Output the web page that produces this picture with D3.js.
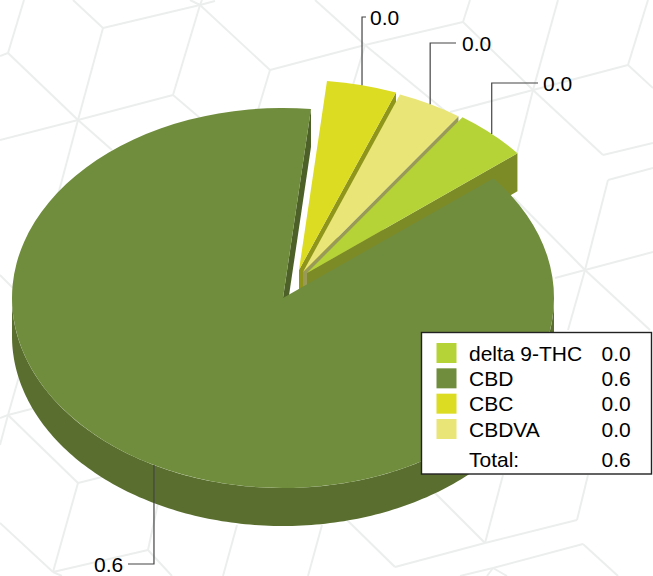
<!DOCTYPE html>
<html>
<head>
<meta charset="utf-8">
<script src="https://cdn.jsdelivr.net/npm/d3@7/dist/d3.min.js"></script>
<style>
  html, body { margin: 0; padding: 0; background: #fff; }
  svg { display: block; }
  text { font-family: "Liberation Sans", Arial, sans-serif; font-size: 21px; fill: #000; }
</style>
</head>
<body>
<div id="pieChart"></div>
<script>
// chart values
const categories = ['delta 9-THC', 'CBD', 'CBC', 'CBDVA']
const values = [0.0284, 0.5612, 0.0268, 0.025]
const totalLabel = 'Total:'
const totalValue = 0.6414

const width = 653
const height = 576

// pie geometry
const cx = 283
const cy = 298
const rx = 271
const ry = 190
const depth = 38
const startDeg = 35

// back to front
const drawOrder = ['CBC', 'CBDVA', 'delta 9-THC', 'CBD']

const topColor = d3.scaleOrdinal().domain(categories).range(['#b5d336', '#708d3d', '#dcdc23', '#e9e677'])
const rimColor = d3.scaleOrdinal().domain(categories).range(['#7d8b27', '#5a6f2f', '#8f941a', '#9a9a58'])
const faceColor = d3.scaleOrdinal().domain(categories).range(['#7d8b27', '#4c6027', '#8f941a', '#9a9a58'])

// how far each slice is pulled out, and where its callout goes
const explode = {
  'delta 9-THC': [24, -25],
  CBD: [0, 0],
  CBC: [16, -28],
  CBDVA: [20, -26]
}
const callouts = {
  'delta 9-THC': { elbowY: 83, endX: 538, textX: 543 },
  CBD: { elbowY: 564, endX: 128, textX: 94 },
  CBC: { elbowY: 17, endX: 366, textX: 370 },
  CBDVA: { elbowY: 43, endX: 456, textX: 462 }
}

// faint cube pattern behind the chart
const bgLines = [
  [24, 0, 8, 53], [8, 53, 0, 56], [8, 53, 78, 120], [73, 0, 103, 28], [103, 28, 200, 5],
  [200, 5, 215, 1], [200, 5, 202, 0], [200, 5, 190, 0], [103, 28, 78, 120], [200, 5, 173, 95],
  [173, 95, 78, 120], [78, 120, 0, 140], [200, 5, 270, 70], [270, 70, 365, 45], [270, 70, 258, 110],
  [173, 95, 200, 118], [78, 120, 58, 195], [78, 120, 112, 150],
  [315, 0, 365, 45], [365, 45, 450, 115], [365, 45, 463, 22], [463, 22, 470, 0], [463, 22, 533, 90],
  [365, 45, 353, 85], [533, 90, 558, 0], [533, 90, 628, 65], [628, 65, 648, 0], [628, 65, 653, 88],
  [533, 90, 450, 112], [533, 90, 517, 153], [533, 90, 603, 155], [603, 155, 653, 143],
  [608, 180, 653, 168], [608, 180, 585, 270], [585, 270, 653, 252], [585, 270, 555, 278],
  [585, 270, 513, 197], [585, 270, 568, 330], [585, 270, 650, 330],
  [0, 275, 13, 288], [20, 373, 8, 415], [8, 415, 35, 408], [8, 415, 0, 418], [8, 415, 78, 483],
  [8, 415, 0, 445], [78, 483, 110, 475], [78, 483, 53, 572], [0, 523, 53, 572], [53, 572, 62, 576],
  [53, 572, 148, 550], [158, 503, 148, 550], [148, 550, 172, 576],
  [237, 525, 223, 576], [322, 525, 308, 576], [347, 520, 395, 567], [395, 567, 485, 543],
  [485, 543, 430, 488], [485, 543, 503, 475], [485, 543, 577, 520], [577, 520, 588, 475],
  [493, 568, 583, 544], [583, 544, 618, 576], [493, 568, 460, 576], [493, 568, 507, 576], [493, 568, 487, 576]
]

const svg = d3
  .select('#pieChart')
  .append('svg')
  .attr('width', width)
  .attr('height', height)

svg
  .append('g')
  .selectAll('line')
  .data(bgLines)
  .enter()
  .append('line')
  .attr('x1', d => d[0])
  .attr('y1', d => d[1])
  .attr('x2', d => d[2])
  .attr('y2', d => d[3])
  .attr('stroke', '#eceeee')
  .attr('stroke-width', 2)

const rad = Math.PI / 180
const pie = d3
  .pie()
  .sort(null)
  .startAngle(startDeg * rad)
  .endAngle((startDeg + 360) * rad)
  .value(d => d)

const slices = pie(values).map((d, i) => ({ ...d, name: categories[i], off: explode[categories[i]] }))
const byName = new Map(slices.map(d => [d.name, d]))

// point on the rim of a slice, dy pushes it down the side wall
function rim(d, angle, dy) {
  return [
    cx + d.off[0] + rx * Math.sin(angle),
    cy + d.off[1] - ry * Math.cos(angle) + (dy || 0)
  ]
}

const line = d3.line()
const arc = d3.arc().innerRadius(0).outerRadius(rx)

const pieG = svg.append('g')

drawOrder.forEach(name => {
  const d = byName.get(name)
  const g = pieG.append('g')

  // curved wall, only the front half of the rim shows
  const a0 = Math.max(d.startAngle, 90 * rad)
  const a1 = Math.min(d.endAngle, 270 * rad)
  if (a1 > a0) {
    const steps = d3.range(a0, a1, rad).concat([a1])
    const pts = steps.map(a => rim(d, a)).concat(steps.slice().reverse().map(a => rim(d, a, depth)))
    g.append('path').attr('d', line(pts) + 'Z').attr('fill', rimColor(name))
  }

  // cut face on the end of the slice
  const endA = d.endAngle
  if (Math.sin(endA) > 0) {
    const apex = [cx + d.off[0], cy + d.off[1]]
    const pts = [apex, rim(d, endA), rim(d, endA, depth), [apex[0], apex[1] + depth]]
    g.append('path').attr('d', line(pts) + 'Z').attr('fill', faceColor(name))
  }

  g
    .append('path')
    .attr('d', arc(d))
    .attr('transform', `translate(${cx + d.off[0]},${cy + d.off[1]}) scale(1,${ry / rx})`)
    .attr('fill', topColor(name))
})

// callouts
const fmt = d3.format('.1f')
const labelG = svg.append('g')
slices.forEach(d => {
  const mid = (d.startAngle + d.endAngle) / 2
  const p = rim(d, mid)
  const c = callouts[d.name]
  labelG
    .append('path')
    .attr('d', line([p, [p[0], c.elbowY], [c.endX, c.elbowY]]))
    .attr('fill', 'none')
    .attr('stroke', '#444')
    .attr('stroke-width', 1.2)
  labelG
    .append('text')
    .attr('x', c.textX)
    .attr('y', c.elbowY + 8)
    .text(fmt(d.value))
})

// legend
const legend = svg.append('g').attr('transform', 'translate(421.5,332.5)')
legend
  .append('rect')
  .attr('width', 230)
  .attr('height', 141.5)
  .attr('fill', '#fff')
  .attr('stroke', '#222')
  .attr('stroke-width', 1.4)

const rowY = d3.scalePoint().domain(categories).range([21, 97])

const rows = legend
  .selectAll('g.row')
  .data(slices)
  .enter()
  .append('g')
  .attr('class', 'row')
  .attr('transform', d => `translate(0,${rowY(d.name)})`)

rows
  .append('rect')
  .attr('x', 15)
  .attr('y', -10.5)
  .attr('width', 20)
  .attr('height', 20)
  .attr('fill', d => topColor(d.name))

rows.append('text').attr('x', 47.5).attr('y', 7).text(d => d.name)
rows.append('text').attr('x', 180).attr('y', 7).text(d => fmt(d.value))

legend.append('text').attr('x', 47.5).attr('y', 134).text(totalLabel)
legend.append('text').attr('x', 180).attr('y', 134).text(fmt(totalValue))
</script>
</body>
</html>
